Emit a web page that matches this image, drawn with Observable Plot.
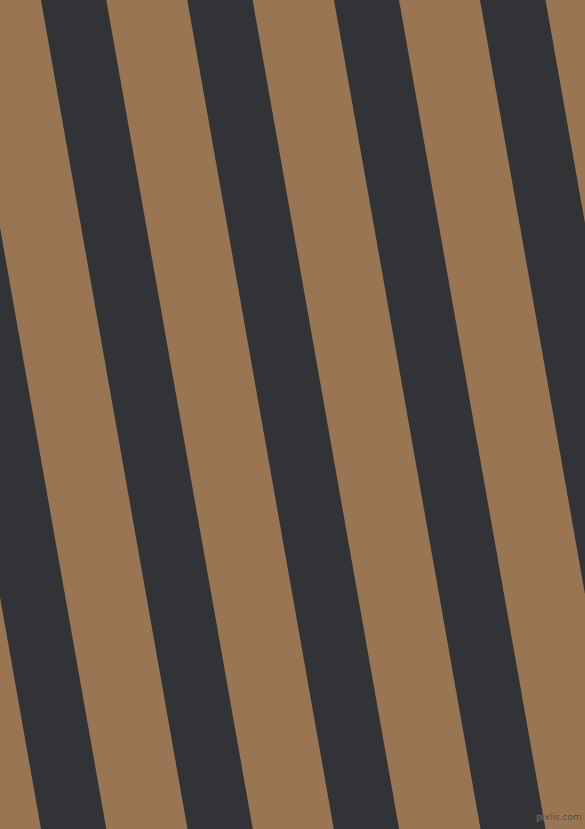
<!DOCTYPE html>
<html>
<head>
<meta charset="utf-8">
<script src="https://cdn.jsdelivr.net/npm/d3@7"></script>
<script src="https://cdn.jsdelivr.net/npm/@observablehq/plot@0.6"></script>
<style>
  html, body { margin: 0; padding: 0; background: #997553; }
  #chart svg { display: block; }
</style>
</head>
<body>
<div id="chart"></div>
<script>
// Dark stripe edges read at the top edge (y = 0), in pixels
const stripeIds = ["s0", "s1", "s2", "s3", "s4"];
const stripeTopLeft = [-105.5, 41, 187.3, 334, 480];
const stripeTopRight = [-40.2, 106.3, 252.6, 399, 545.5];
// Horizontal drift of every edge between top (y=0) and bottom (y=829)
const stripeShift = 146.5;
const yEnds = [0, 829];
const watermark = ["pixlis.com"];

const rows = [];
stripeIds.forEach((id, i) => {
  yEnds.forEach((y, j) => {
    rows.push({
      id,
      y,
      x1: stripeTopLeft[i] + j * stripeShift,
      x2: stripeTopRight[i] + j * stripeShift
    });
  });
});

const W = 585, H = 829;
const chart = Plot.plot({
  width: W,
  height: H,
  margin: 0,
  x: { domain: [0, W], range: [0, W], axis: null },
  y: { domain: [0, H], range: [0, H], axis: null },
  style: { background: "#997553" },
  marks: [
    Plot.areaX(rows, {
      y: "y", x1: "x1", x2: "x2", z: "id",
      fill: "#313337", clip: true, curve: "linear"
    }),
    Plot.text(watermark, {
      x: W - 4, y: H - 12, text: d => d,
      textAnchor: "end", fontSize: 9, fill: "#4a4540",
      fontFamily: "DejaVu Sans", stroke: "#a88a6a", strokeWidth: 0.6
    })
  ]
});
document.getElementById("chart").append(chart);
</script>
</body>
</html>
